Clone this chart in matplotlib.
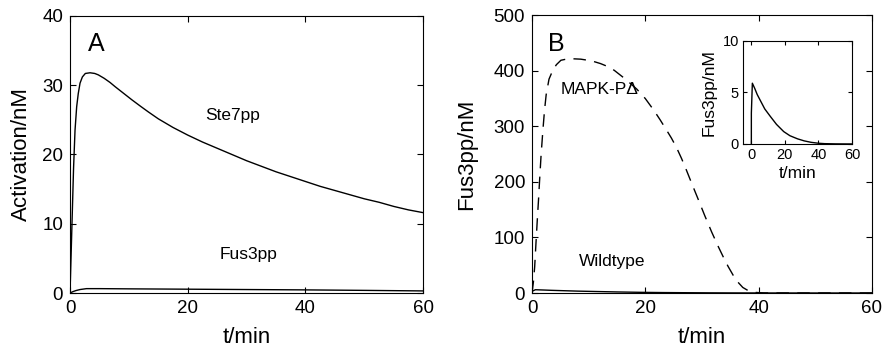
import matplotlib
matplotlib.use("Agg")
import matplotlib.pyplot as plt

plt.rcParams['font.family'] = ['Liberation Sans', 'DejaVu Sans']

# panel A: Ste7pp and Fus3pp
t_ste7 = [0, 0.2, 0.4, 0.6, 0.85, 1.13, 1.4, 1.7, 2.1, 2.6, 3.4, 4.2, 4.8, 5.8, 6.8, 7.65,
          9, 10.5, 12, 13.3, 15, 17.5, 20, 22.5, 25, 27.5, 30, 32.5, 35, 37.5, 40,
          42.5, 45, 47.5, 50, 52.5, 55, 57.5, 60]
ste7 = [0, 6, 12, 18, 23.5, 26.9, 28.8, 30.3, 31.2, 31.7, 31.8, 31.7, 31.5, 31.0, 30.4, 29.8,
        28.9, 27.9, 26.95, 26.15, 25.15, 23.9, 22.8, 21.8, 20.9, 20.0, 19.1, 18.3, 17.5, 16.8, 16.1,
        15.4, 14.8, 14.2, 13.6, 13.1, 12.5, 12.0, 11.6]
t_fus3 = [0, 0.5, 1, 1.7, 2.8, 5, 10, 20, 30, 40, 50, 60]
fus3 = [0, 0.2, 0.35, 0.5, 0.63, 0.63, 0.6, 0.55, 0.5, 0.45, 0.38, 0.3]

# panel B: MAPK-P delta mutant (dashed) and wildtype
t_mapk = [0, 0.25, 0.47, 0.7, 0.93, 1.15, 1.34, 1.6, 1.92, 2.2, 2.5, 3.0, 3.67, 4.3, 5.1,
          6.5, 8.6, 10.5, 12.1, 13.3, 14.5, 16.5, 18.5, 20, 21.5, 22.6, 23.7, 24.6, 25.5,
          26.4, 27.3, 28.2, 29.4, 30.5, 31.7, 32.9, 33.8, 34.6, 35.5, 36.3, 37.2, 38.2,
          39.5, 41, 50, 60]
mapk = [0, 20, 47, 90, 131, 168, 203, 248, 293, 328, 357, 385, 401, 411, 419,
        422, 421, 418, 413, 408, 401, 385, 367, 350, 329, 312, 294, 279, 262,
        242, 220, 197, 167, 139, 110, 83, 64, 48, 32, 20, 10, 4,
        1, 0, 0, 0]
t_wt = [0, 0.01, 0.6, 2, 3.5, 5.1, 8, 11.2, 15, 19.3, 23, 27.5, 31.5, 35.6, 40, 43.7, 50, 60]
wt = [0, 3.0, 5.9, 5.4, 4.8, 4.3, 3.4, 2.7, 1.9, 1.2, 0.8, 0.5, 0.3, 0.16, 0.07, 0.03, 0.01, 0]

fig = plt.figure(figsize=(8.83, 3.52), dpi=100)


def style(ax, size=13.5, length=4, pad=5):
    ax.tick_params(direction='in', top=True, right=True, labelsize=size, length=length,
                   width=0.8, pad=pad)
    for s in ax.spines.values():
        s.set_linewidth(0.8)


# panel A
axA = fig.add_axes([0.0793, 0.1676, 0.400, 0.787])
axA.plot(t_ste7, ste7, color='black', lw=1.0)
axA.plot(t_fus3, fus3, color='black', lw=1.0)
axA.set_xlim(0, 60)
axA.set_ylim(0, 40)
axA.set_xticks([0, 20, 40, 60])
axA.set_yticks([0, 10, 20, 30, 40])
style(axA)
axA.set_xlabel('t/min', fontsize=16, labelpad=7)
axA.set_ylabel('Activation/nM', fontsize=16, labelpad=7)
axA.text(4.5, 36, 'A', fontsize=18, ha='center', va='center')
axA.text(27.7, 25.7, 'Ste7pp', fontsize=12.5, ha='center', va='center')
axA.text(30.3, 5.5, 'Fus3pp', fontsize=12.5, ha='center', va='center')

# panel B
axB = fig.add_axes([0.6025, 0.1676, 0.385, 0.789])
axB.plot(t_mapk, mapk, color='black', lw=1.0, dashes=(9, 6))
axB.plot(t_wt, wt, color='black', lw=1.0)
axB.set_xlim(0, 60)
axB.set_ylim(0, 500)
axB.set_xticks([0, 20, 40, 60])
axB.set_yticks([0, 100, 200, 300, 400, 500])
style(axB)
axB.set_xlabel('t/min', fontsize=16, labelpad=7)
axB.set_ylabel('Fus3pp/nM', fontsize=16, labelpad=12)
axB.text(4.3, 449, 'B', fontsize=18, ha='center', va='center')
axB.text(11.9, 366, 'MAPK-P\u0394', fontsize=12.5, ha='center', va='center')
axB.text(14.2, 56, 'Wildtype', fontsize=12.5, ha='center', va='center')

# inset
axI = fig.add_axes([0.8414, 0.591, 0.1235, 0.2926])
axI.plot(t_wt, wt, color='black', lw=1.0)
axI.set_xlim(-5, 60)
axI.set_ylim(0, 10)
axI.set_xticks([0, 20, 40, 60])
axI.set_yticks([0, 5, 10])
style(axI, size=10.5, length=3, pad=3)
axI.set_xlabel('t/min', fontsize=12.5, labelpad=3)
axI.set_ylabel('Fus3pp/nM', fontsize=12.5, labelpad=4)

fig.savefig('out.png', dpi=100)
